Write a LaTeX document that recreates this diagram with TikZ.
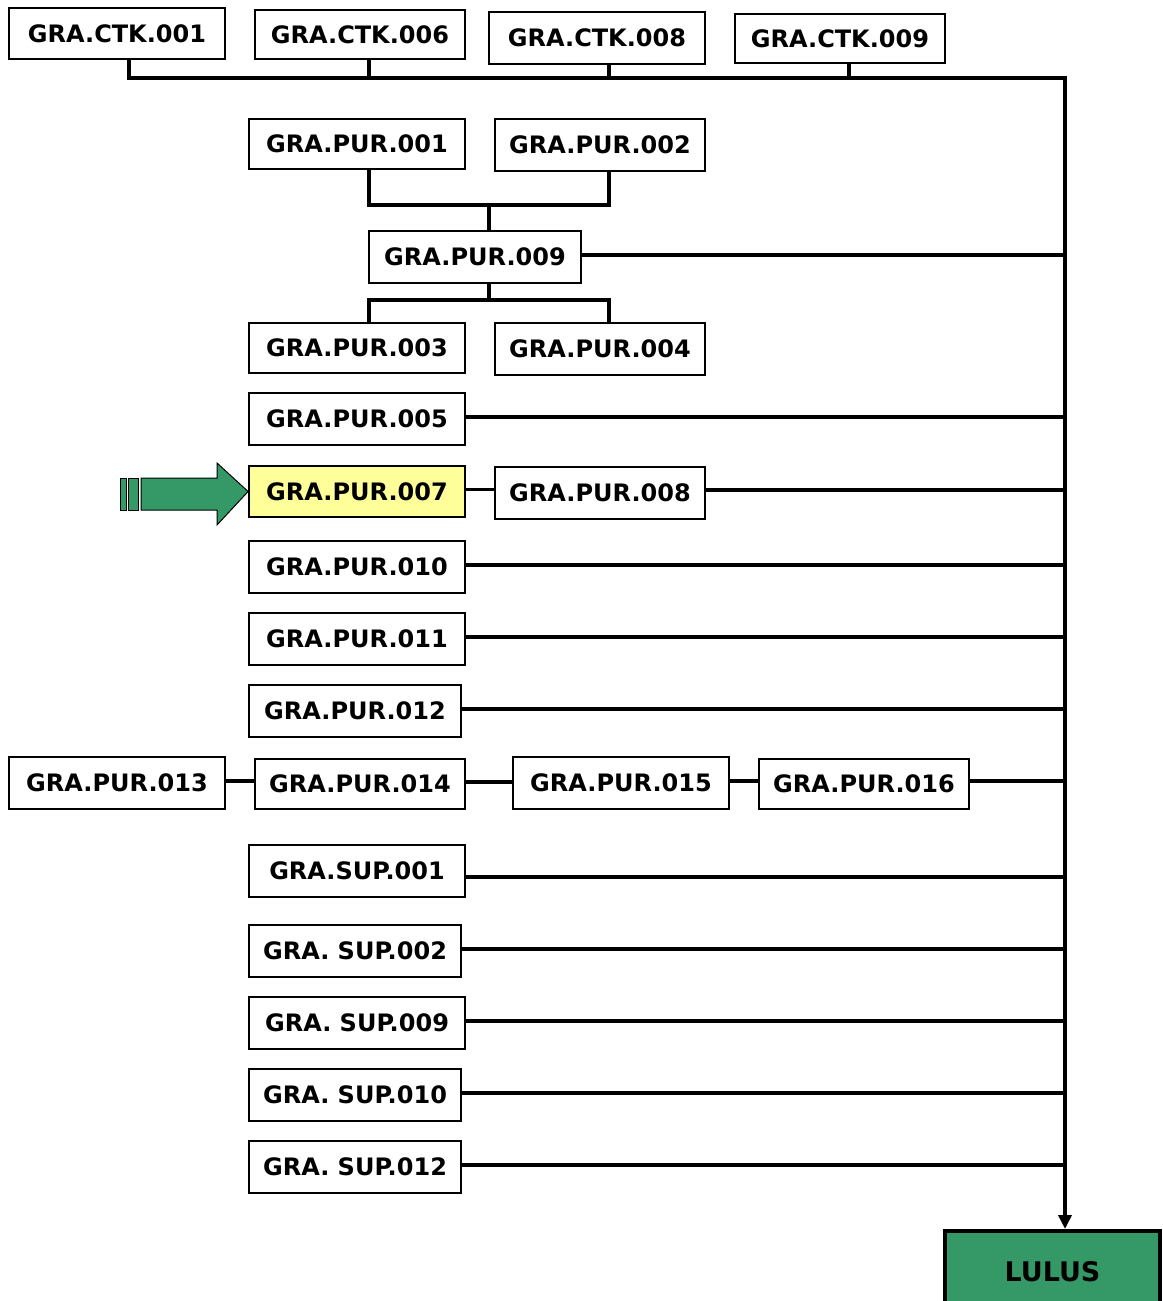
\documentclass[tikz,border=0pt]{standalone}
\usepackage{fontspec}
\usetikzlibrary{arrows.meta}
\newfontfamily\boxfnt{DejaVu Sans}[BoldFont={DejaVu Sans Bold}]
\definecolor{arrgreen}{RGB}{52,153,102}
\definecolor{hilite}{RGB}{255,255,153}
\begin{document}
\begin{tikzpicture}[x=1pt,y=-1pt,
  bx/.style={draw, line width=1.8pt, inner sep=0pt, fill=white, font=\boxfnt\bfseries\fontsize{24}{26}\selectfont},
  conn/.style={line width=3.5pt, line cap=rect}]
\useasboundingbox (0,0) rectangle (1162,1301);
% top row
\node[bx, minimum width=216pt, minimum height=51pt] (ctk1) at (117,33.5) {GRA.CTK.001};
\node[bx, minimum width=210pt, minimum height=49pt] (ctk6) at (360,34.5) {GRA.CTK.006};
\node[bx, minimum width=216pt, minimum height=52pt] (ctk8) at (597,38) {GRA.CTK.008};
\node[bx, minimum width=210pt, minimum height=49pt] (ctk9) at (840,38.5) {GRA.CTK.009};
% PUR
\node[bx, minimum width=216pt, minimum height=50pt] (p1) at (357,144) {GRA.PUR.001};
\node[bx, minimum width=210pt, minimum height=52pt] (p2) at (600,145) {GRA.PUR.002};
\node[bx, minimum width=212pt, minimum height=52pt] (p9) at (475,257) {GRA.PUR.009};
\node[bx, minimum width=216pt, minimum height=50pt] (p3) at (357,348) {GRA.PUR.003};
\node[bx, minimum width=210pt, minimum height=52pt] (p4) at (600,349) {GRA.PUR.004};
\node[bx, minimum width=216pt, minimum height=52pt] (p5) at (357,419) {GRA.PUR.005};
\node[bx, minimum width=216pt, minimum height=51pt, fill=hilite] (p7) at (357,491.5) {GRA.PUR.007};
\node[bx, minimum width=210pt, minimum height=52pt] (p8) at (600,493) {GRA.PUR.008};
\node[bx, minimum width=216pt, minimum height=52pt] (p10) at (357,567) {GRA.PUR.010};
\node[bx, minimum width=216pt, minimum height=52pt] (p11) at (357,639) {GRA.PUR.011};
\node[bx, minimum width=212pt, minimum height=52pt] (p12) at (355,711) {GRA.PUR.012};
\node[bx, minimum width=216pt, minimum height=52pt] (p13) at (117,783) {GRA.PUR.013};
\node[bx, minimum width=210pt, minimum height=50pt] (p14) at (360,784) {GRA.PUR.014};
\node[bx, minimum width=216pt, minimum height=52pt] (p15) at (621,783) {GRA.PUR.015};
\node[bx, minimum width=210pt, minimum height=50pt] (p16) at (864,784) {GRA.PUR.016};
% SUP
\node[bx, minimum width=216pt, minimum height=52pt] (s1) at (357,871) {GRA.SUP.001};
\node[bx, minimum width=212pt, minimum height=52pt] (s2) at (355,951) {GRA. SUP.002};
\node[bx, minimum width=216pt, minimum height=52pt] (s9) at (357,1023) {GRA. SUP.009};
\node[bx, minimum width=212pt, minimum height=52pt] (s10) at (355,1095) {GRA. SUP.010};
\node[bx, minimum width=212pt, minimum height=52pt] (s12) at (355,1167) {GRA. SUP.012};
% LULUS
\node[draw, line width=4pt, fill=arrgreen, inner sep=0pt, minimum width=215pt, minimum height=82pt,
      font=\boxfnt\bfseries\fontsize{27}{30}\selectfont] (lulus) at (1052.5,1272) {LULUS};
% main line
\coordinate (top) at (1065,78);
\coordinate (mx) at (1065,0);
\draw[line width=3.5pt, -{Triangle[length=14pt,width=13pt]}] (top) -- (top |- lulus.north);
% top bus
\draw[conn] ([xshift=12pt]ctk1.south) |- (top);
\draw[conn] ([xshift=9pt]ctk6.south) -- ([xshift=9pt]ctk6.south |- top);
\draw[conn] ([xshift=12pt]ctk8.south) -- ([xshift=12pt]ctk8.south |- top);
\draw[conn] ([xshift=9pt]ctk9.south) -- ([xshift=9pt]ctk9.south |- top);
% PUR tree
\coordinate (j1) at (489,205);
\coordinate (j2) at (489,300);
\draw[conn] ([xshift=12pt]p1.south) |- ([xshift=9pt]p2.south |- j1) -- ([xshift=9pt]p2.south);
\draw[conn] (j1) -- (j1 |- p9.north);
\draw[conn] (j2 |- p9.south) -- (j2);
\draw[conn] ([xshift=12pt]p3.north) |- ([xshift=9pt]p4.north |- j2) -- ([xshift=9pt]p4.north);
\draw[conn] ([yshift=2pt]p9.east) -- ([yshift=2pt]p9.east -| mx);
% rows
\foreach \n in {p5,p10,p11,p12,s2,s9,s10,s12}
  \draw[conn] ([yshift=2pt]\n.east) -- ([yshift=2pt]\n.east -| mx);
\draw[conn] ([yshift=3pt]p8.east) -- ([yshift=3pt]p8.east -| mx);
\draw[conn] ([yshift=3pt]p16.east) -- ([yshift=3pt]p16.east -| mx);
\draw[conn] ([yshift=-6pt]s1.east) -- ([yshift=-6pt]s1.east -| mx);
\draw[conn] ([yshift=2pt]p7.east) -- ([yshift=2pt]p7.east -| p8.west);
\draw[conn] ([yshift=2pt]p13.east) -- ([yshift=2pt]p13.east -| p14.west);
\draw[conn] ([yshift=2pt]p14.east) -- ([yshift=2pt]p14.east -| p15.west);
\draw[conn] ([yshift=2pt]p15.east) -- ([yshift=2pt]p15.east -| p16.west);
% green block arrow
\draw[fill=arrgreen, line width=1pt] (141,478) -- (217,478) -- (217,463) -- (p7.west) -- (217,525) -- (217,510) -- (141,510) -- cycle;
\draw[fill=arrgreen, line width=1pt] (120,478) rectangle (126,510);
\draw[fill=arrgreen, line width=1pt] (128,478) rectangle (138,510);
\end{tikzpicture}
\end{document}
